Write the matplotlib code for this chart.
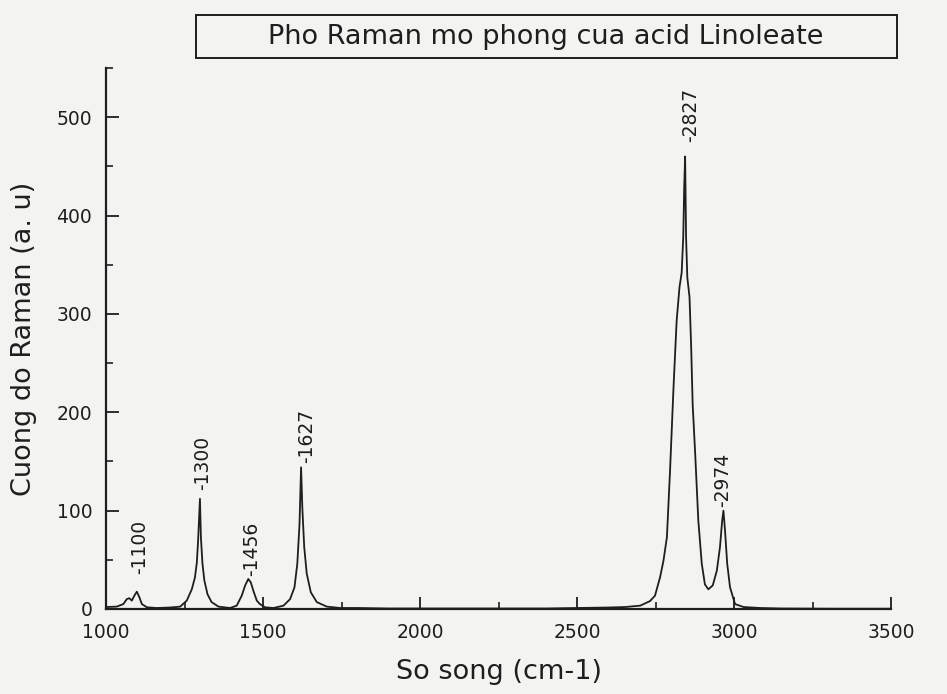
import matplotlib
matplotlib.use('Agg')
import matplotlib.pyplot as plt
from matplotlib.patches import Rectangle
from matplotlib.ticker import MultipleLocator

# spectrum (wavenumber, intensity)
wavenumber = [1000, 1034, 1055, 1066, 1074, 1082, 1090, 1098, 1106, 1114, 1130, 1161,
              1204, 1236, 1257, 1273, 1283, 1289, 1293, 1299, 1302, 1307, 1313, 1323,
              1336, 1358, 1395, 1416, 1432, 1443, 1453, 1461, 1469, 1480, 1490, 1506,
              1533, 1565, 1586, 1600, 1609, 1616, 1621, 1625, 1631, 1639, 1652, 1671,
              1703, 1745, 1800, 1900, 2000, 2100, 2200, 2300, 2400, 2500, 2600, 2653,
              2701, 2732, 2748, 2764, 2775, 2786, 2796, 2807, 2817, 2826, 2833, 2838,
              2841, 2844, 2847, 2851, 2858, 2863, 2868, 2876, 2886, 2897, 2907, 2918,
              2932, 2945, 2955, 2962, 2966, 2971, 2978, 2987, 3003, 3030, 3083, 3150,
              3300, 3500]
intensity = [2, 2.4, 5, 10, 11, 8.5, 13.5, 17.6, 12, 5, 1.7, 1,
             1.5, 2.4, 8.5, 20, 32, 47, 69, 112, 73, 46, 29, 15,
             7, 2.4, 1, 3.4, 13.5, 24, 30.5, 27, 18.6, 8.5, 5, 1.7,
             1, 3.4, 10, 22, 46, 86, 144, 103, 63, 36, 17, 7,
             2.4, 1, 1, 0.5, 0.5, 0.5, 0.5, 0.5, 0.5, 1, 1.5, 2,
             3.4, 8, 13.5, 32, 49, 73, 141, 225, 293, 327, 342, 378,
             428, 460, 378, 337, 317, 269, 208, 158, 90, 46, 25, 20,
             24, 39, 63, 90, 100, 80, 46, 22, 5, 2, 1, 0.5,
             0.3, 0.3]

# peak labels and where they sit
peak_labels = ['-1100', '-1300', '-1456', '-1627', '-2827', '-2974']
label_x = [1108, 1306, 1465, 1640, 2860, 2962]
label_y = [36, 121, 34, 148, 475, 104]

ink = '#1e1e1e'
paper = '#f3f3f1'

fig = plt.figure(figsize=(9.47, 6.94), dpi=100, facecolor=paper)
ax = fig.add_axes([0.112, 0.1225, 0.829, 0.7795])
ax.set_facecolor(paper)

ax.plot(wavenumber, intensity, color=ink, linewidth=1.3)

for txt, x, y in zip(peak_labels, label_x, label_y):
    ax.text(x, y, txt, rotation=90, ha='center', va='bottom', fontsize=13.5, color=ink)

ax.set_xlim(1000, 3500)
ax.set_ylim(0, 550)
ax.xaxis.set_major_locator(MultipleLocator(500))
ax.xaxis.set_minor_locator(MultipleLocator(250))
ax.yaxis.set_major_locator(MultipleLocator(100))
ax.yaxis.set_minor_locator(MultipleLocator(50))
ax.tick_params(which='major', direction='in', length=9, width=1.3, pad=10,
               labelsize=13.5, colors=ink)
ax.tick_params(which='minor', direction='in', length=5, width=1.2, colors=ink)

for side in ['top', 'right']:
    ax.spines[side].set_visible(False)
for side in ['left', 'bottom']:
    ax.spines[side].set_linewidth(1.6)
    ax.spines[side].set_color(ink)

ax.set_xlabel('So song (cm-1)', fontsize=19.5, color=ink, labelpad=12)
ax.set_ylabel('Cuong do Raman (a. u)', fontsize=19.5, color=ink, labelpad=14)

# title box
fig.patches.append(Rectangle((0.207, 0.916), 0.740, 0.062, transform=fig.transFigure,
                             fill=False, edgecolor=ink, linewidth=1.4))
fig.text(0.5766, 0.947, 'Pho Raman mo phong cua acid Linoleate', ha='center', va='center',
         fontsize=19.5, color=ink)

plt.savefig('out.png', dpi=100, facecolor=paper)
